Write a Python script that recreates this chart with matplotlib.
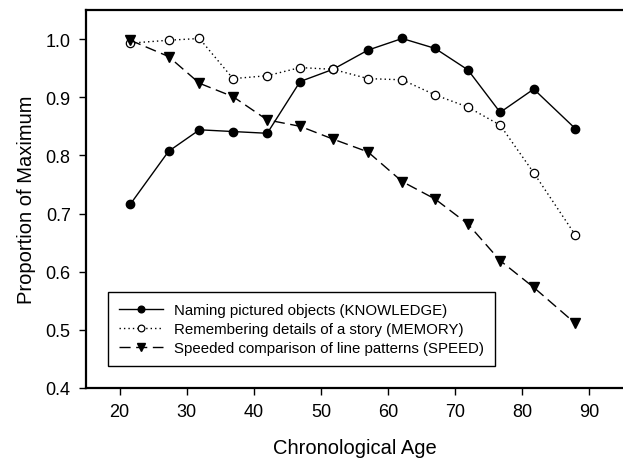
import matplotlib
matplotlib.use("Agg")
import matplotlib.pyplot as plt

plt.rcParams["font.family"] = ["Liberation Sans", "DejaVu Sans"]

AGES = [21.6, 27.3, 31.9, 36.9, 42.0, 46.9, 51.8, 57.0, 62.1, 67.0, 71.9, 76.7, 81.7, 87.9]

KNOWLEDGE = [0.716, 0.807, 0.844, 0.841, 0.838, 0.927, 0.948, 0.981, 1.001, 0.984,
             0.947, 0.874, 0.914, 0.846]
MEMORY = [0.993, 0.998, 1.001, 0.932, 0.937, 0.951, 0.948, 0.932, 0.930, 0.904,
          0.883, 0.852, 0.770, 0.663]
SPEED = [0.998, 0.970, 0.924, 0.901, 0.861, 0.850, 0.828, 0.806, 0.755, 0.725,
         0.682, 0.619, 0.573, 0.511]

LABELS = [
    "Naming pictured objects (KNOWLEDGE)",
    "Remembering details of a story (MEMORY)",
    "Speeded comparison of line patterns (SPEED)",
]

X_TICKS = [20, 30, 40, 50, 60, 70, 80, 90]
Y_TICKS = [0.4, 0.5, 0.6, 0.7, 0.8, 0.9, 1.0]


def main() -> None:
    fig = plt.figure(figsize=(6.23, 4.60), dpi=100)
    ax = fig.add_axes([86 / 623, 1 - 389 / 460, 1 - 86 / 623, (389 - 11) / 460])

    ax.plot(AGES, KNOWLEDGE, color="black", linewidth=1.0, linestyle="-",
            marker="o", markersize=6, markerfacecolor="black",
            markeredgecolor="black", label=LABELS[0])
    ax.plot(AGES, MEMORY, color="black", linewidth=1.0, linestyle=(0, (1, 2.2)),
            marker="o", markersize=6, markerfacecolor="white",
            markeredgecolor="black", markeredgewidth=0.9, label=LABELS[1])
    ax.plot(AGES, SPEED, color="black", linewidth=1.0, linestyle=(0, (8, 4)),
            marker="v", markersize=7, markerfacecolor="black",
            markeredgecolor="black", label=LABELS[2])

    ax.set_xlim(15, 95)
    ax.set_ylim(0.4, 1.05)
    ax.set_xticks(X_TICKS)
    ax.set_yticks(Y_TICKS)
    ax.set_yticklabels([f"{v:.1f}" for v in Y_TICKS])
    ax.tick_params(direction="out", length=5, width=1.0, labelsize=13, pad=6)

    for side in ("left", "top", "bottom"):
        ax.spines[side].set_linewidth(1.6)
    ax.spines["right"].set_visible(False)

    ax.set_xlabel("Chronological Age", fontsize=14.5, labelpad=13)
    ax.set_ylabel("Proportion of Maximum", fontsize=14.5, labelpad=7)

    leg = ax.legend(loc="lower left", bbox_to_anchor=(0.041, 0.058),
                    borderaxespad=0, fontsize=10.8, frameon=True, fancybox=False,
                    framealpha=1, edgecolor="black", handlelength=2.9,
                    handletextpad=0.75, labelspacing=0.33, borderpad=0.75,
                    markerscale=0.8)
    leg.get_frame().set_linewidth(1.0)

    fig.savefig("out.png", dpi=100)
    plt.close(fig)


if __name__ == "__main__":
    main()
